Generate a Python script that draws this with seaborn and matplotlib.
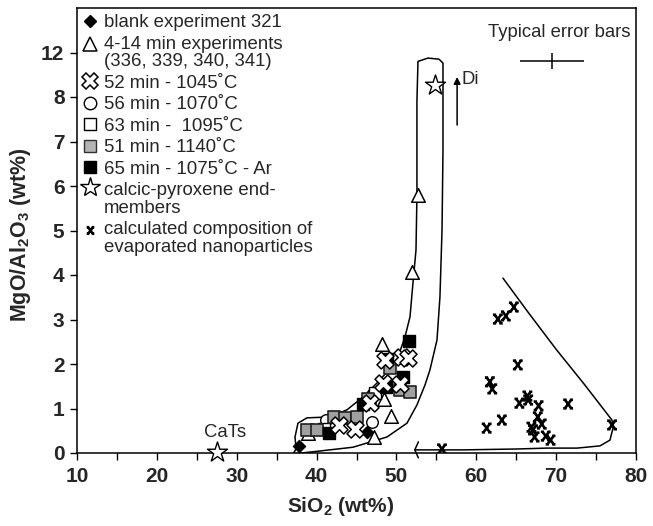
import numpy as np
import pandas as pd
import matplotlib
matplotlib.use("Agg")
import matplotlib.pyplot as plt
import seaborn as sns
from matplotlib.lines import Line2D
from matplotlib.path import Path
from matplotlib.legend_handler import HandlerLine2D
from matplotlib.transforms import Affine2D

sns.set_style("ticks")
plt.rcParams['font.family'] = ['Liberation Sans', 'DejaVu Sans']
plt.rcParams['mathtext.fontset'] = 'custom'
plt.rcParams['mathtext.rm'] = 'Liberation Sans'
plt.rcParams['mathtext.bf'] = 'Liberation Sans:bold'

# ---------------- data ----------------
blank_x = [37.8, 46.3]
blank_y = [0.16, 0.47]
tri_x = [38.9, 47.2, 48.2, 48.4, 49.3, 51.9, 52.7, 46.6]
tri_y = [0.45, 0.36, 2.45, 1.21, 0.83, 4.07, 5.8, 1.28]
circ_x = [46.9, 41.2]
circ_y = [0.69, 0.74]
osq_x = [40.9, 47.3]
osq_y = [0.55, 1.35]
gsq_x = [38.8, 40.0, 42.2, 43.6, 45.1, 46.5, 49.2, 50.4, 51.7]
gsq_y = [0.52, 0.52, 0.80, 0.79, 0.82, 1.22, 1.91, 1.41, 1.36]
bsq_x = [41.6, 45.8, 48.8, 48.7, 50.8, 51.6]
bsq_y = [0.46, 1.09, 2.11, 1.48, 1.71, 2.52]
x52_x = [42.8, 44.8, 48.3, 48.6, 50.5, 50.7, 51.4, 46.7]
x52_y = [0.63, 0.55, 1.57, 2.09, 1.56, 2.16, 2.14, 1.12]
nano_x = [62.7, 63.7, 64.7, 65.2, 61.7, 62.0, 65.4, 66.4, 66.5, 67.8, 71.5,
          67.7, 63.2, 61.3, 66.9, 68.2, 67.1, 67.3, 68.7, 69.3, 77.0, 55.7]
nano_y = [3.01, 3.08, 3.28, 1.98, 1.60, 1.44, 1.12, 1.28, 1.19, 1.06, 1.10,
          0.81, 0.74, 0.56, 0.58, 0.65, 0.52, 0.36, 0.38, 0.29, 0.63, 0.09]
star_x = [27.5, 54.8]
star_y = [0.02, 9.08]

# envelope around experiments
env1_x = [37.05, 40.43, 44.56, 48.82, 51.32, 52.57, 53.58, 54.20, 55.08, 55.45,
          55.71, 55.83, 55.83, 55.33, 53.95, 52.70, 52.57, 52.57, 52.45, 52.07,
          51.70, 51.07, 50.07, 47.94, 45.81, 43.81, 41.68, 38.80, 37.67, 37.30,
          37.43, 37.05]
env1_y = [-0.02, 0.045, 0.13, 0.36, 0.67, 1.08, 1.53, 1.87, 2.54, 3.51,
          5.01, 6.81, 11.05, 11.4, 11.5, 11.2, 7.93, 5.80, 4.56, 3.82,
          3.06, 2.61, 2.09, 1.64, 1.26, 0.97, 0.81, 0.79, 0.67, 0.36,
          0.09, -0.02]
# envelope around nanoparticles
env2_x = [63.34, 66.5, 70.0, 73.5, 76.99, 77.12, 76.74, 75.49, 72.61, 68.85, 65.10, 58.34, 52.32]
env2_y = [3.93, 3.16, 2.33, 1.55, 0.74, 0.56, 0.29, 0.16, 0.11, 0.11, 0.09, 0.07, 0.07]

yticks = [0, 1, 2, 3, 4, 5, 6, 7, 8, 12]
xticks = [10, 20, 30, 40, 50, 60, 70, 80]

# ---------------- scale ----------------
def fwd(v):
    v = np.asarray(v, dtype=float)
    return np.where(v <= 8, v, 8 + (v - 8) / 4.0)

def inv(p):
    p = np.asarray(p, dtype=float)
    return np.where(p <= 8, p, 8 + (p - 8) * 4.0)

fig = plt.figure(figsize=(6.53, 5.26), dpi=100)
ax = fig.add_axes([77 / 653, 73 / 526, 559 / 653, 445 / 526])
ax.set_yscale('function', functions=(fwd, inv))

# envelope lines
sns.lineplot(x=env1_x, y=env1_y, sort=False, estimator=None, color='black', lw=1.1, ax=ax, zorder=2)
sns.lineplot(x=env2_x, y=env2_y, sort=False, estimator=None, color='black', lw=1.1, ax=ax, zorder=2)
ax.plot([52.75, 52.3, 52.75], [0.25, 0.07, -0.11], color='black', lw=1.1, clip_on=False, zorder=2)

# nano marker path
nano_verts = [(-0.75, -1), (0.75, 1), (-0.75, 1), (0.75, -1),
              (-1.15, 1), (-0.4, 1), (0.4, 1), (1.15, 1),
              (-1.15, -1), (-0.4, -1), (0.4, -1), (1.15, -1)]
nano_codes = [Path.MOVETO, Path.LINETO] * 6
nano_marker = Path(nano_verts, nano_codes)

common = dict(ax=ax, legend=False)
sns.scatterplot(x=tri_x, y=tri_y, marker='^', s=95, color='white', edgecolor='black', linewidth=1.1, zorder=3, **common)
sns.scatterplot(x=circ_x, y=circ_y, marker='o', s=70, color='white', edgecolor='black', linewidth=1.0, zorder=3, **common)
sns.scatterplot(x=blank_x, y=blank_y, marker='D', s=40, color='black', edgecolor='black', linewidth=0.8, zorder=4, **common)
sns.scatterplot(x=osq_x, y=osq_y, marker='s', s=85, color='white', edgecolor='black', linewidth=1.0, zorder=4, **common)
sns.scatterplot(x=gsq_x, y=gsq_y, marker='s', s=85, color='#a0a0a0', edgecolor='#202020', linewidth=1.2, zorder=4, **common)
sns.scatterplot(x=bsq_x, y=bsq_y, marker='s', s=85, color='black', edgecolor='black', linewidth=1.0, zorder=4, **common)
sns.scatterplot(x=x52_x, y=x52_y, marker='X', s=150, color='white', edgecolor='black', linewidth=1.1, zorder=5, **common)
sns.scatterplot(x=nano_x, y=nano_y, marker=nano_marker, s=50, facecolor='none', edgecolor='black', linewidth=1.9, zorder=5, **common)
sns.scatterplot(x=star_x, y=star_y, marker='*', s=230, color='white', edgecolor='black', linewidth=1.0, zorder=6, clip_on=False, **common)

# typical error bars
ax.errorbar([69.48], [11.24], xerr=[4.0], yerr=[0.72], fmt='none', ecolor='black', elinewidth=1.1, capsize=0)
ax.text(70.35, 13.76, 'Typical error bars', ha='center', va='center', fontsize=13.3)

# Di arrow
ax.annotate('', xy=(57.6, 9.8), xytext=(57.6, 7.37),
            arrowprops=dict(arrowstyle='-|>', color='black', lw=1.1, mutation_scale=10, shrinkA=0, shrinkB=0))
ax.text(58.1, 9.55, 'Di', ha='left', va='center', fontsize=13.3)
ax.text(28.5, 0.47, 'CaTs', ha='center', va='center', fontsize=13.3)

# axes
ax.set_xlim(10, 80)
ax.set_ylim(0, 16)
ax.set_xticks(xticks)
ax.set_xticks([15, 25, 35, 45, 55, 65, 75], minor=True)
ax.set_yticks(yticks)
ax.set_yticklabels([str(t) for t in yticks])
ax.yaxis.set_minor_locator(matplotlib.ticker.NullLocator())
ax.tick_params(axis='both', which='both', direction='out', length=5, width=1, color='black')
ax.tick_params(axis='x', pad=5)
ax.tick_params(axis='y', pad=4)
for lab in ax.get_xticklabels() + ax.get_yticklabels():
    lab.set_fontsize(15)
    lab.set_fontweight('bold')
for sp in ax.spines.values():
    sp.set_visible(True)
    sp.set_linewidth(1.1)
    sp.set_color('black')
ax.set_xlabel(r'SiO$_\mathbf{2}$ (wt%)', fontsize=15, fontweight='bold')
ax.set_ylabel(r'MgO/Al$_\mathbf{2}$O$_\mathbf{3}$ (wt%)', fontsize=15.5, fontweight='bold')
ax.xaxis.set_label_coords(0.472, -0.095)
ax.yaxis.set_label_coords(-0.078, 0.49)

# legend
class UpHandler(HandlerLine2D):
    def __init__(self, dy=0, **kw):
        super().__init__(**kw)
        self.dy = dy
    def create_artists(self, legend, orig_handle, xdescent, ydescent, width, height, fontsize, trans):
        arts = super().create_artists(legend, orig_handle, xdescent, ydescent, width, height, fontsize, trans)
        for a in arts:
            a.set_transform(Affine2D().translate(0, self.dy) + trans)
        return arts

h_blank = Line2D([], [], ls='none', marker='D', ms=6.5, mfc='black', mec='black')
h_tri = Line2D([], [], ls='none', marker='^', ms=9.5, mfc='white', mec='black', mew=1.1)
h_x = Line2D([], [], ls='none', marker='X', ms=11, mfc='white', mec='black', mew=1.1)
h_c = Line2D([], [], ls='none', marker='o', ms=9, mfc='white', mec='black', mew=1.0)
h_os = Line2D([], [], ls='none', marker='s', ms=9, mfc='white', mec='black', mew=1.0)
h_gs = Line2D([], [], ls='none', marker='s', ms=9, mfc='#b4b4b4', mec='#303030', mew=1.0)
h_bs = Line2D([], [], ls='none', marker='s', ms=9, mfc='black', mec='black')
h_st = Line2D([], [], ls='none', marker='*', ms=15, mfc='white', mec='black', mew=1.0)
h_n = Line2D([], [], ls='none', marker=nano_marker, ms=5.5, mfc='none', mec='black', mew=1.8)
handles = [h_blank, h_tri, h_x, h_c, h_os, h_gs, h_bs, h_st, h_n]
labels = ['blank experiment 321',
          '4-14 min experiments\n(336, 339, 340, 341)',
          '52 min - 1045˚C',
          '56 min - 1070˚C',
          '63 min -  1095˚C',
          '51 min - 1140˚C',
          '65 min - 1075˚C - Ar',
          'calcic-pyroxene end-\nmembers',
          'calculated composition of\nevaporated nanoparticles']
leg = ax.legend(handles, labels, loc='upper left', bbox_to_anchor=(0.010, 0.9865),
                frameon=False, fontsize=13.4, borderaxespad=0, borderpad=0,
                handlelength=0.8, handletextpad=0.35, labelspacing=0.24,
                handler_map={h_tri: UpHandler(dy=6), h_st: UpHandler(dy=9), h_n: UpHandler(dy=6)})
for t in leg.get_texts():
    t.set_linespacing(1.05)

fig.savefig('out.png', dpi=100)
